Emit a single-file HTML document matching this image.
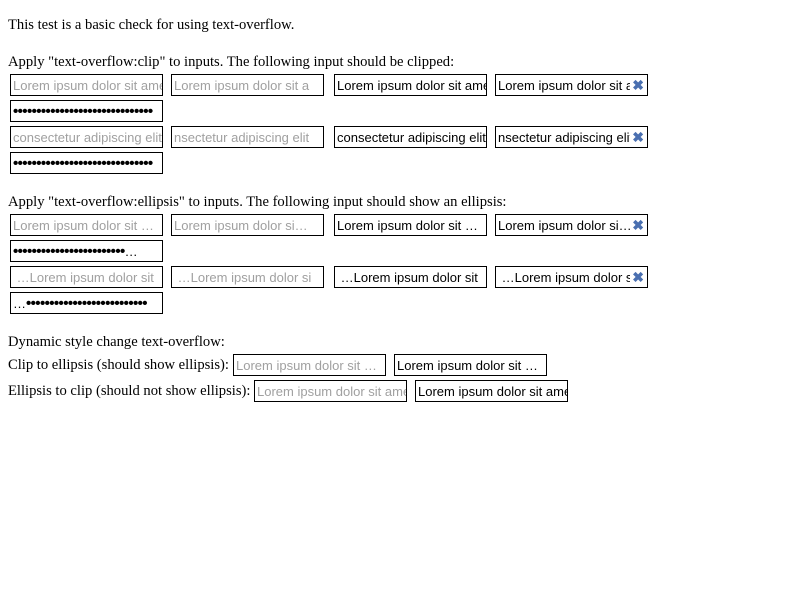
<!DOCTYPE html>
<html><head><style>
body{margin:0;width:800px;height:600px;background:#fff;position:relative;font-family:"Liberation Serif",serif;font-size:14.6px;color:#000}
.t{position:absolute;left:8px;white-space:nowrap}
.b{position:absolute;height:20px;border:1px solid #000;font-family:"Liberation Sans",sans-serif;font-size:13px;line-height:21px;white-space:nowrap;overflow:hidden;padding:0 2px;box-sizing:content-box;width:147px}
.g{color:#a0a0a0}
.x{position:absolute;right:0;top:0;color:#4a6fb0;font-weight:bold;font-size:14px;background:#fff;padding:0 3px 0 2px}
.d{font-weight:bold;font-size:15px;letter-spacing:-0.6px}
.r{text-align:right}
</style></head><body>
<div class="t" style="top:17px">This test is a basic check for using text-overflow.</div>
<div class="t" style="top:54px">Apply "text-overflow:clip" to inputs. The following input should be clipped:</div>
<div class="b g" style="left:10px;top:74px">Lorem ipsum dolor sit amet</div>
<div class="b g" style="left:171px;top:74px">Lorem ipsum dolor sit a</div>
<div class="b" style="left:334px;top:74px">Lorem ipsum dolor sit amet</div>
<div class="b" style="left:495px;top:74px">Lorem ipsum dolor sit amet<span class="x">✖</span></div>
<div class="b d" style="left:10px;top:100px">••••••••••••••••••••••••••••••</div>
<div class="b g r" style="left:10px;top:126px">consectetur adipiscing elit</div>
<div class="b g" style="left:171px;top:126px">nsectetur adipiscing elit</div>
<div class="b r" style="left:334px;top:126px">consectetur adipiscing elit</div>
<div class="b" style="left:495px;top:126px">nsectetur adipiscing elit<span class="x">✖</span></div>
<div class="b d" style="left:10px;top:152px">••••••••••••••••••••••••••••••</div>
<div class="t" style="top:194px">Apply "text-overflow:ellipsis" to inputs. The following input should show an ellipsis:</div>
<div class="b g" style="left:10px;top:214px">Lorem ipsum dolor sit …</div>
<div class="b g" style="left:171px;top:214px">Lorem ipsum dolor si…</div>
<div class="b" style="left:334px;top:214px">Lorem ipsum dolor sit …</div>
<div class="b" style="left:495px;top:214px">Lorem ipsum dolor si…<span class="x">✖</span></div>
<div class="b" style="left:10px;top:240px"><span class="d">••••••••••••••••••••••••</span>…</div>
<div class="b g" style="left:10px;top:266px">&nbsp;…Lorem ipsum dolor sit</div>
<div class="b g" style="left:171px;top:266px">&nbsp;…Lorem ipsum dolor si</div>
<div class="b" style="left:334px;top:266px">&nbsp;…Lorem ipsum dolor sit</div>
<div class="b" style="left:495px;top:266px">&nbsp;…Lorem ipsum dolor sit<span class="x">✖</span></div>
<div class="b" style="left:10px;top:292px">…<span class="d">••••••••••••••••••••••••••</span></div>
<div class="t" style="top:334px">Dynamic style change text-overflow:</div>
<div class="t" style="top:357px">Clip to ellipsis (should show ellipsis):</div>
<div class="t" style="top:383px">Ellipsis to clip (should not show ellipsis):</div>
<div class="b g" style="left:233px;top:354px">Lorem ipsum dolor sit …</div>
<div class="b" style="left:394px;top:354px">Lorem ipsum dolor sit …</div>
<div class="b g" style="left:254px;top:380px">Lorem ipsum dolor sit amet</div>
<div class="b" style="left:415px;top:380px">Lorem ipsum dolor sit amet</div>
</body></html>
